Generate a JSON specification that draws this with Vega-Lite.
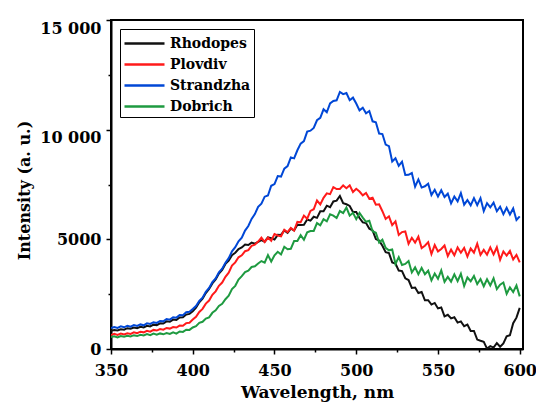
{
  "$schema": "https://vega.github.io/schema/vega-lite/v6.json",
  "width": 412,
  "height": 329,
  "autosize": "none",
  "padding": {"left": 111, "top": 20, "right": 13, "bottom": 58},
  "background": "white",
  "config": {
    "view": {"stroke": "black", "strokeWidth": 2},
    "font": "DejaVu Serif"
  },
  "data": {
    "values": [
      {"x":350,"Rhodopes":830,"Plovdiv":640,"Strandzha":950,"Dobrich":550},
      {"x":352,"Rhodopes":870,"Plovdiv":690,"Strandzha":1000,"Dobrich":580},
      {"x":354,"Rhodopes":845,"Plovdiv":640,"Strandzha":960,"Dobrich":530},
      {"x":356,"Rhodopes":900,"Plovdiv":700,"Strandzha":1030,"Dobrich":590},
      {"x":358,"Rhodopes":880,"Plovdiv":660,"Strandzha":990,"Dobrich":560},
      {"x":360,"Rhodopes":950,"Plovdiv":720,"Strandzha":1060,"Dobrich":600},
      {"x":362,"Rhodopes":925,"Plovdiv":690,"Strandzha":1020,"Dobrich":570},
      {"x":364,"Rhodopes":980,"Plovdiv":760,"Strandzha":1090,"Dobrich":630},
      {"x":366,"Rhodopes":950,"Plovdiv":720,"Strandzha":1050,"Dobrich":590},
      {"x":368,"Rhodopes":1010,"Plovdiv":790,"Strandzha":1120,"Dobrich":650},
      {"x":370,"Rhodopes":980,"Plovdiv":760,"Strandzha":1080,"Dobrich":620},
      {"x":372,"Rhodopes":1060,"Plovdiv":830,"Strandzha":1170,"Dobrich":680},
      {"x":374,"Rhodopes":1030,"Plovdiv":790,"Strandzha":1140,"Dobrich":630},
      {"x":376,"Rhodopes":1110,"Plovdiv":870,"Strandzha":1220,"Dobrich":700},
      {"x":378,"Rhodopes":1090,"Plovdiv":840,"Strandzha":1190,"Dobrich":650},
      {"x":380,"Rhodopes":1170,"Plovdiv":910,"Strandzha":1280,"Dobrich":710},
      {"x":382,"Rhodopes":1160,"Plovdiv":880,"Strandzha":1260,"Dobrich":670},
      {"x":384,"Rhodopes":1260,"Plovdiv":960,"Strandzha":1370,"Dobrich":730},
      {"x":386,"Rhodopes":1240,"Plovdiv":930,"Strandzha":1340,"Dobrich":690},
      {"x":388,"Rhodopes":1340,"Plovdiv":1000,"Strandzha":1450,"Dobrich":760},
      {"x":390,"Rhodopes":1320,"Plovdiv":980,"Strandzha":1430,"Dobrich":700},
      {"x":392,"Rhodopes":1440,"Plovdiv":1070,"Strandzha":1550,"Dobrich":800},
      {"x":394,"Rhodopes":1450,"Plovdiv":1060,"Strandzha":1540,"Dobrich":780},
      {"x":396,"Rhodopes":1570,"Plovdiv":1180,"Strandzha":1680,"Dobrich":880},
      {"x":398,"Rhodopes":1600,"Plovdiv":1200,"Strandzha":1700,"Dobrich":870},
      {"x":400,"Rhodopes":1720,"Plovdiv":1340,"Strandzha":1820,"Dobrich":980},
      {"x":402,"Rhodopes":1880,"Plovdiv":1470,"Strandzha":1960,"Dobrich":1040},
      {"x":404,"Rhodopes":2130,"Plovdiv":1690,"Strandzha":2190,"Dobrich":1190},
      {"x":406,"Rhodopes":2290,"Plovdiv":1830,"Strandzha":2340,"Dobrich":1240},
      {"x":408,"Rhodopes":2550,"Plovdiv":2070,"Strandzha":2610,"Dobrich":1390},
      {"x":410,"Rhodopes":2740,"Plovdiv":2210,"Strandzha":2780,"Dobrich":1440},
      {"x":412,"Rhodopes":2990,"Plovdiv":2470,"Strandzha":3050,"Dobrich":1650},
      {"x":414,"Rhodopes":3170,"Plovdiv":2630,"Strandzha":3220,"Dobrich":1760},
      {"x":416,"Rhodopes":3440,"Plovdiv":2880,"Strandzha":3490,"Dobrich":1960},
      {"x":418,"Rhodopes":3610,"Plovdiv":3030,"Strandzha":3660,"Dobrich":2060},
      {"x":420,"Rhodopes":3880,"Plovdiv":3290,"Strandzha":3930,"Dobrich":2270},
      {"x":422,"Rhodopes":4030,"Plovdiv":3480,"Strandzha":4140,"Dobrich":2430},
      {"x":424,"Rhodopes":4280,"Plovdiv":3800,"Strandzha":4450,"Dobrich":2730},
      {"x":426,"Rhodopes":4390,"Plovdiv":3950,"Strandzha":4640,"Dobrich":2880},
      {"x":428,"Rhodopes":4560,"Plovdiv":4180,"Strandzha":4910,"Dobrich":3170},
      {"x":430,"Rhodopes":4630,"Plovdiv":4270,"Strandzha":5080,"Dobrich":3320},
      {"x":432,"Rhodopes":4760,"Plovdiv":4460,"Strandzha":5400,"Dobrich":3510},
      {"x":434,"Rhodopes":4740,"Plovdiv":4510,"Strandzha":5610,"Dobrich":3570},
      {"x":436,"Rhodopes":4850,"Plovdiv":4700,"Strandzha":5930,"Dobrich":3740},
      {"x":438,"Rhodopes":4800,"Plovdiv":4760,"Strandzha":6150,"Dobrich":3770},
      {"x":440,"Rhodopes":4880,"Plovdiv":4900,"Strandzha":6480,"Dobrich":3900},
      {"x":442,"Rhodopes":4962,"Plovdiv":5080,"Strandzha":6624,"Dobrich":4010},
      {"x":444,"Rhodopes":4894,"Plovdiv":4874,"Strandzha":6945,"Dobrich":3940},
      {"x":446,"Rhodopes":5088,"Plovdiv":5078,"Strandzha":7000,"Dobrich":4280},
      {"x":448,"Rhodopes":5054,"Plovdiv":4936,"Strandzha":7441,"Dobrich":3990},
      {"x":450,"Rhodopes":4990,"Plovdiv":5240,"Strandzha":7522,"Dobrich":4270},
      {"x":452,"Rhodopes":5204,"Plovdiv":5176,"Strandzha":7883,"Dobrich":4430},
      {"x":454,"Rhodopes":5202,"Plovdiv":5140,"Strandzha":7862,"Dobrich":4310},
      {"x":456,"Rhodopes":5410,"Plovdiv":5436,"Strandzha":8226,"Dobrich":4660},
      {"x":458,"Rhodopes":5298,"Plovdiv":5326,"Strandzha":8338,"Dobrich":4550},
      {"x":460,"Rhodopes":5486,"Plovdiv":5520,"Strandzha":8737,"Dobrich":4570},
      {"x":462,"Rhodopes":5402,"Plovdiv":5400,"Strandzha":8691,"Dobrich":4920},
      {"x":464,"Rhodopes":5660,"Plovdiv":5794,"Strandzha":9061,"Dobrich":4920},
      {"x":466,"Rhodopes":5652,"Plovdiv":5778,"Strandzha":9364,"Dobrich":5190},
      {"x":468,"Rhodopes":5660,"Plovdiv":6082,"Strandzha":9477,"Dobrich":4980},
      {"x":470,"Rhodopes":5902,"Plovdiv":5938,"Strandzha":9912,"Dobrich":5320},
      {"x":472,"Rhodopes":5852,"Plovdiv":6294,"Strandzha":9955,"Dobrich":5380},
      {"x":474,"Rhodopes":6030,"Plovdiv":6372,"Strandzha":10079,"Dobrich":5380},
      {"x":476,"Rhodopes":5980,"Plovdiv":6768,"Strandzha":10430,"Dobrich":5740},
      {"x":478,"Rhodopes":6278,"Plovdiv":6594,"Strandzha":10540,"Dobrich":5640},
      {"x":480,"Rhodopes":6276,"Plovdiv":6894,"Strandzha":10930,"Dobrich":5920},
      {"x":482,"Rhodopes":6534,"Plovdiv":7096,"Strandzha":10790,"Dobrich":5820},
      {"x":484,"Rhodopes":6466,"Plovdiv":7058,"Strandzha":11200,"Dobrich":6140},
      {"x":486,"Rhodopes":6728,"Plovdiv":7378,"Strandzha":11310,"Dobrich":6080},
      {"x":488,"Rhodopes":6764,"Plovdiv":7290,"Strandzha":11340,"Dobrich":5970},
      {"x":490,"Rhodopes":6976,"Plovdiv":7296,"Strandzha":11720,"Dobrich":6290},
      {"x":492,"Rhodopes":6648,"Plovdiv":7460,"Strandzha":11620,"Dobrich":6200},
      {"x":494,"Rhodopes":6598,"Plovdiv":7334,"Strandzha":11670,"Dobrich":6450},
      {"x":496,"Rhodopes":6522,"Plovdiv":7464,"Strandzha":11340,"Dobrich":6080},
      {"x":498,"Rhodopes":6246,"Plovdiv":7160,"Strandzha":11460,"Dobrich":6210},
      {"x":500,"Rhodopes":6246,"Plovdiv":7306,"Strandzha":11190,"Dobrich":5920},
      {"x":502,"Rhodopes":5970,"Plovdiv":7178,"Strandzha":10880,"Dobrich":6200},
      {"x":504,"Rhodopes":5772,"Plovdiv":7002,"Strandzha":11000,"Dobrich":5990},
      {"x":506,"Rhodopes":5740,"Plovdiv":7112,"Strandzha":10750,"Dobrich":5800},
      {"x":508,"Rhodopes":5488,"Plovdiv":6852,"Strandzha":10850,"Dobrich":5850},
      {"x":510,"Rhodopes":5408,"Plovdiv":6896,"Strandzha":10380,"Dobrich":5370},
      {"x":512,"Rhodopes":5010,"Plovdiv":6582,"Strandzha":10340,"Dobrich":5300},
      {"x":514,"Rhodopes":4942,"Plovdiv":6594,"Strandzha":9820,"Dobrich":4850},
      {"x":516,"Rhodopes":4706,"Plovdiv":6282,"Strandzha":9800,"Dobrich":4980},
      {"x":518,"Rhodopes":4414,"Plovdiv":5930,"Strandzha":9320,"Dobrich":4610},
      {"x":520,"Rhodopes":4375,"Plovdiv":6050,"Strandzha":9250,"Dobrich":4500},
      {"x":522,"Rhodopes":3950,"Plovdiv":5650,"Strandzha":8550,"Dobrich":4540},
      {"x":524,"Rhodopes":3900,"Plovdiv":5820,"Strandzha":8700,"Dobrich":3880},
      {"x":526,"Rhodopes":3575,"Plovdiv":5200,"Strandzha":8350,"Dobrich":4190},
      {"x":528,"Rhodopes":3550,"Plovdiv":5330,"Strandzha":8540,"Dobrich":3830},
      {"x":530,"Rhodopes":3225,"Plovdiv":5360,"Strandzha":7930,"Dobrich":3880},
      {"x":532,"Rhodopes":3145,"Plovdiv":4800,"Strandzha":7940,"Dobrich":4010},
      {"x":534,"Rhodopes":2785,"Plovdiv":5070,"Strandzha":8020,"Dobrich":3490},
      {"x":536,"Rhodopes":2800,"Plovdiv":4850,"Strandzha":7400,"Dobrich":3720},
      {"x":538,"Rhodopes":2550,"Plovdiv":5120,"Strandzha":7730,"Dobrich":3410},
      {"x":540,"Rhodopes":2600,"Plovdiv":4600,"Strandzha":7360,"Dobrich":3700},
      {"x":542,"Rhodopes":2220,"Plovdiv":4710,"Strandzha":7420,"Dobrich":3410},
      {"x":544,"Rhodopes":2225,"Plovdiv":4870,"Strandzha":7540,"Dobrich":3570},
      {"x":546,"Rhodopes":2025,"Plovdiv":4330,"Strandzha":7020,"Dobrich":3130},
      {"x":548,"Rhodopes":2100,"Plovdiv":4740,"Strandzha":7260,"Dobrich":3440},
      {"x":550,"Rhodopes":1850,"Plovdiv":4450,"Strandzha":6950,"Dobrich":3200},
      {"x":552,"Rhodopes":1895,"Plovdiv":4560,"Strandzha":7240,"Dobrich":3580},
      {"x":554,"Rhodopes":1490,"Plovdiv":4720,"Strandzha":6930,"Dobrich":3060},
      {"x":556,"Rhodopes":1560,"Plovdiv":4240,"Strandzha":7080,"Dobrich":3290},
      {"x":558,"Rhodopes":1395,"Plovdiv":4530,"Strandzha":6640,"Dobrich":3070},
      {"x":560,"Rhodopes":1450,"Plovdiv":4270,"Strandzha":6950,"Dobrich":3400},
      {"x":562,"Rhodopes":1205,"Plovdiv":4630,"Strandzha":6730,"Dobrich":3090},
      {"x":564,"Rhodopes":1260,"Plovdiv":4390,"Strandzha":7110,"Dobrich":3430},
      {"x":566,"Rhodopes":1040,"Plovdiv":4610,"Strandzha":6580,"Dobrich":2870},
      {"x":568,"Rhodopes":1115,"Plovdiv":4220,"Strandzha":6790,"Dobrich":3260},
      {"x":570,"Rhodopes":820,"Plovdiv":4580,"Strandzha":6550,"Dobrich":3090},
      {"x":572,"Rhodopes":825,"Plovdiv":4390,"Strandzha":6880,"Dobrich":3330},
      {"x":574,"Rhodopes":430,"Plovdiv":4800,"Strandzha":6560,"Dobrich":2960},
      {"x":576,"Rhodopes":375,"Plovdiv":4290,"Strandzha":6880,"Dobrich":3190},
      {"x":578,"Rhodopes":330,"Plovdiv":4520,"Strandzha":6290,"Dobrich":2860},
      {"x":580,"Rhodopes":20,"Plovdiv":4300,"Strandzha":6650,"Dobrich":3180},
      {"x":582,"Rhodopes":130,"Plovdiv":4630,"Strandzha":6460,"Dobrich":2900},
      {"x":584,"Rhodopes":65,"Plovdiv":4310,"Strandzha":6670,"Dobrich":3220},
      {"x":586,"Rhodopes":270,"Plovdiv":4640,"Strandzha":6280,"Dobrich":2730},
      {"x":588,"Rhodopes":105,"Plovdiv":4070,"Strandzha":6490,"Dobrich":2930},
      {"x":590,"Rhodopes":250,"Plovdiv":4450,"Strandzha":6150,"Dobrich":3030},
      {"x":592,"Rhodopes":580,"Plovdiv":4260,"Strandzha":6440,"Dobrich":2520},
      {"x":594,"Rhodopes":630,"Plovdiv":4470,"Strandzha":6130,"Dobrich":2810},
      {"x":596,"Rhodopes":1175,"Plovdiv":4080,"Strandzha":6410,"Dobrich":2600},
      {"x":598,"Rhodopes":1430,"Plovdiv":4290,"Strandzha":5880,"Dobrich":2900},
      {"x":600,"Rhodopes":1875,"Plovdiv":3950,"Strandzha":6050,"Dobrich":2400}
    ]
  },
  "transform": [
    {"fold": ["Rhodopes", "Plovdiv", "Strandzha", "Dobrich"], "as": ["series", "I"]}
  ],
  "mark": {"type": "line", "strokeWidth": 2, "clip": true},
  "encoding": {
    "x": {
      "field": "x",
      "type": "quantitative",
      "scale": {"domain": [350, 602], "nice": false, "zero": false},
      "axis": {
        "title": "Wavelength, nm",
        "values": [350, 375, 400, 425, 450, 475, 500, 525, 550, 575, 600],
        "labelExpr": "datum.value % 50 == 0 ? format(datum.value, 'd') : ''",
        "grid": false,
        "domainColor": "black",
        "domainWidth": 2,
        "tickColor": "black",
        "tickWidth": 1.5,
        "tickSize": {"condition": {"test": "datum.value % 50 != 0", "value": 3}, "value": 5},
        "labelFont": "DejaVu Serif",
        "labelFontWeight": "bold",
        "labelFontSize": 16,
        "labelColor": "black",
        "labelPadding": 8,
        "labelFlush": false,
        "titleFont": "DejaVu Serif",
        "titleFontWeight": "bold",
        "titleFontSize": 17,
        "titleColor": "black",
        "titleBaseline": "alphabetic",
        "titleY": 48
      }
    },
    "y": {
      "field": "I",
      "type": "quantitative",
      "scale": {"domain": [0, 15000], "nice": false},
      "axis": {
        "title": "Intensity (a. u.)",
        "values": [0, 2500, 5000, 7500, 10000, 12500, 15000],
        "labelExpr": "datum.value == 15000 ? '15 000' : datum.value == 10000 ? '10 000' : datum.value % 5000 == 0 ? format(datum.value, 'd') : ''",
        "grid": false,
        "domainColor": "black",
        "domainWidth": 2,
        "tickColor": "black",
        "tickWidth": 1.5,
        "tickSize": {"condition": {"test": "datum.value % 5000 != 0", "value": 3}, "value": 5},
        "labelBaseline": {"condition": {"test": "datum.value >= 10000", "value": "top"}, "value": "middle"},
        "labelFont": "DejaVu Serif",
        "labelFontWeight": "bold",
        "labelFontSize": 16,
        "labelColor": "black",
        "labelPadding": 5,
        "labelFlush": false,
        "titleFont": "DejaVu Serif",
        "titleFontWeight": "bold",
        "titleFontSize": 16,
        "titleColor": "black",
        "titleBaseline": "alphabetic",
        "titleX": -82,
        "titleY": 170
      }
    },
    "color": {
      "field": "series",
      "type": "nominal",
      "scale": {
        "domain": ["Rhodopes", "Plovdiv", "Strandzha", "Dobrich"],
        "range": ["#111111", "#ff1a1a", "#0047d6", "#1e9a40"]
      },
      "legend": {
        "title": null,
        "orient": "none",
        "legendX": 9,
        "legendY": 9,
        "symbolType": "M-1,0L3,0",
        "symbolSize": 400,
        "symbolStrokeWidth": 2.5,
        "labelFont": "DejaVu Serif",
        "labelFontWeight": "bold",
        "labelFontSize": 14,
        "labelColor": "black",
        "labelOffset": 24,
        "rowPadding": 2,
        "padding": 3,
        "strokeColor": "black",
        "fillColor": "white",
        "cornerRadius": 0
      }
    }
  }
}
